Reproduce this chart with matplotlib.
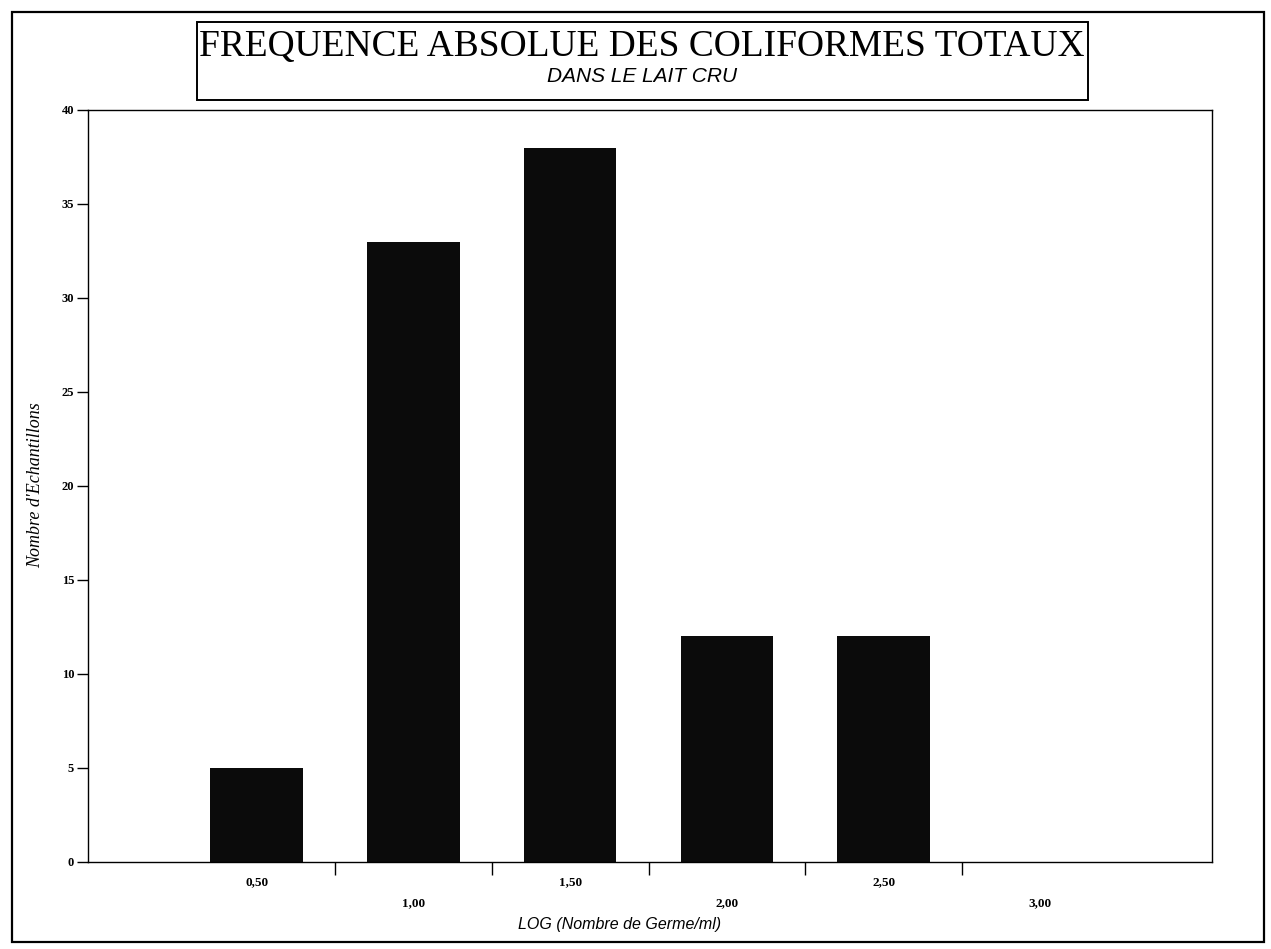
import numpy as np
import matplotlib
matplotlib.use("Agg")
import matplotlib.pyplot as plt
from matplotlib.patches import Rectangle
from matplotlib.transforms import blended_transform_factory

categories = ["0,50", "1,00", "1,50", "2,00", "2,50", "3,00"]
counts = [5, 33, 38, 12, 12, 0]
y_ticks = [0, 5, 10, 15, 20, 25, 30, 35, 40]

W, H = 1271, 949
fig = plt.figure(figsize=(W / 100, H / 100), dpi=100)
fig.patch.set_facecolor("white")


def fx(px):
    return px / W


def fy(py):
    return 1 - py / H


# outer frame
fig.add_artist(Rectangle((fx(12), fy(942)), fx(1264) - fx(12), fy(12) - fy(942),
                         transform=fig.transFigure, fill=False, lw=1.6, ec="black"))

# title box
fig.add_artist(Rectangle((fx(197), fy(100)), fx(1088) - fx(197), fy(22) - fy(100),
                         transform=fig.transFigure, fill=False, lw=1.4, ec="black"))
fig.text(fx(642), fy(47), "FREQUENCE ABSOLUE DES COLIFORMES TOTAUX",
         family="Liberation Serif", fontsize=26.9, ha="center", va="center")
fig.text(fx(642), fy(76), "DANS LE LAIT CRU", family="Liberation Sans",
         style="italic", fontsize=15, ha="center", va="center")

ax = fig.add_axes([fx(88), fy(862), fx(1212) - fx(88), fy(110) - fy(862)])
x = np.arange(len(categories))
ax.bar(x, counts, width=0.59, color="#0b0b0b", linewidth=0, zorder=2)

ax.set_xlim(-1.076, 6.095)
ax.set_ylim(0, 40)

ax.set_yticks(y_ticks)
ax.set_yticklabels([str(v) for v in y_ticks], family="Liberation Serif",
                   fontweight="bold", fontsize=9)
ax.tick_params(axis="y", direction="out", length=8, width=1, pad=2)

ax.set_xticks(np.arange(len(categories) - 1) + 0.5)
ax.set_xticklabels([])
ax.tick_params(axis="x", direction="out", length=9, width=1)

for sp in ax.spines.values():
    sp.set_linewidth(1.0)

trans = blended_transform_factory(ax.transData, fig.transFigure)
for i, lab in enumerate(categories):
    ypx = 882 if i % 2 == 0 else 903
    ax.text(i, fy(ypx), lab, transform=trans, ha="center", va="center",
            family="Liberation Serif", fontweight="bold", fontsize=9.5)

fig.text(fx(620), fy(925), "LOG (Nombre de Germe/ml)", family="Liberation Sans",
         style="italic", fontsize=11.5, ha="center", va="center")
fig.text(fx(36), fy(485), "Nombre d'Echantillons", family="Liberation Serif",
         style="italic", fontsize=13, ha="center", va="center", rotation=90)

fig.savefig("out.png", dpi=100)
